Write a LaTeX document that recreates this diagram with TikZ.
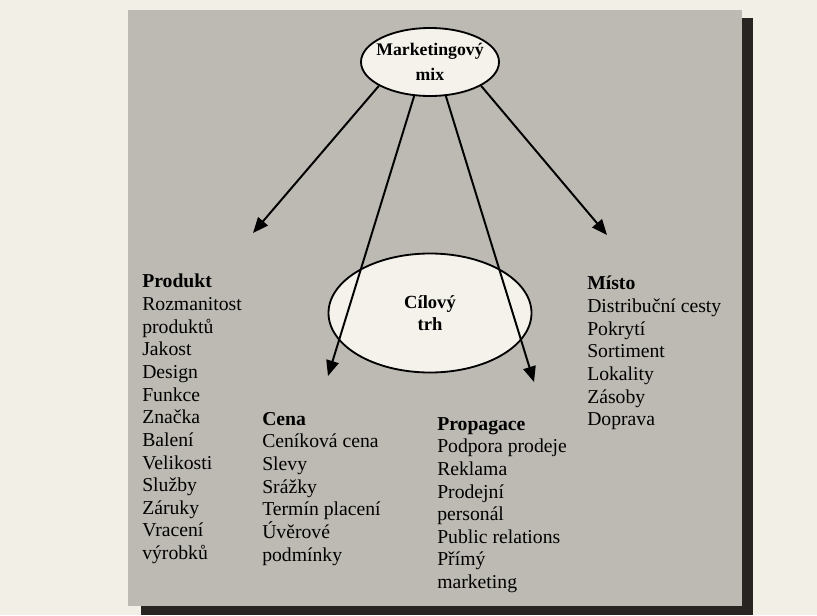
\documentclass[tikz,border=0pt]{standalone}
\usepackage{fontspec}
\setmainfont{Liberation Serif}
\usetikzlibrary{shapes.geometric,arrows.meta}
\definecolor{paper}{RGB}{242,239,230}
\definecolor{boxgray}{RGB}{188,186,178}
\definecolor{shadowdark}{RGB}{40,36,33}
\definecolor{bubblefill}{RGB}{244,242,235}
\begin{document}
\begin{tikzpicture}[
    bubble/.style={ellipse,draw,line width=1.3pt,fill=bubblefill,inner sep=0pt,
      align=center,font=\bfseries\fontsize{13.2}{16}\selectfont},
    items/.style={anchor=north west,inner sep=0pt,align=left,
      font=\fontsize{14}{16.1}\selectfont},
    mixarrow/.style={-{Triangle[length=11pt,width=9pt]},line width=1.4pt}
  ]
  \useasboundingbox (0,0) rectangle (20.425,-15.375);
  \fill[paper] (0,0) rectangle (20.425,-15.375);
  \fill[shadowdark] (3.525,-0.45) rectangle (18.825,-15.375);
  \fill[boxgray] (3.2,-0.25) rectangle (18.55,-15.15);

  \node[bubble,inner xsep=-6pt,minimum width=3.45cm,minimum height=1.7cm,
    font=\bfseries\fontsize{12.6}{15}\selectfont] (mix) at (10.75,-1.55) {Marketingový\\[3pt]mix};
  \node[bubble,minimum width=5.075cm,minimum height=2.975cm] (trh) at (10.75,-7.825) {Cílový\\trh};

  \coordinate (produkt) at (6.325,-5.825);
  \coordinate (cena) at (8.2,-9.4);
  \coordinate (propagace) at (13.35,-9.55);
  \coordinate (misto) at (15.175,-5.875);

  \begin{scope}[mixarrow]
    \draw (mix.205) to (produkt);
    \draw (mix.245) to (cena);
    \draw (mix.295) to (propagace);
    \draw (mix.335) to (misto);
  \end{scope}

  \node[items] (p) at (3.55,-6.85) {\textbf{Produkt}\\Rozmanitost\\produktů\\Jakost\\Design\\Funkce\\Značka\\Balení\\Velikosti\\Služby\\Záruky\\Vracení\\výrobků};
  \node[items] (c) at (6.55,-10.3) {\textbf{Cena}\\Ceníková cena\\Slevy\\Srážky\\Termín placení\\Úvěrové\\podmínky};
  \node[items] (g) at (10.925,-10.425) {\textbf{Propagace}\\Podpora prodeje\\Reklama\\Prodejní\\personál\\Public relations\\Přímý\\marketing};
  \node[items] (m) at (14.675,-6.9) {\textbf{Místo}\\Distribuční cesty\\Pokrytí\\Sortiment\\Lokality\\Zásoby\\Doprava};
\end{tikzpicture}
\end{document}
